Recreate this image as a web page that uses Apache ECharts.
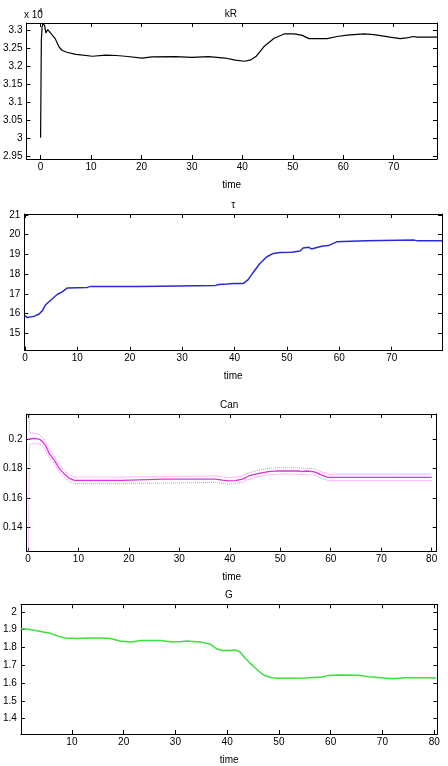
<!DOCTYPE html>
<html>
<head>
<meta charset="utf-8">
<script src="https://cdn.jsdelivr.net/npm/echarts@6.0.0/dist/echarts.min.js"></script>
<style>
  html, body { margin: 0; padding: 0; background: #fff; }
  #chart { width: 448px; height: 766px; }
</style>
</head>
<body>
<div id="chart"></div>
<script>
// kR (in units of 10^4)
const kRTime = [0, 0.15, 0.3, 0.5, 0.8, 1.05, 1.4, 1.8, 2.2, 2.9, 3.7, 4.3, 5.2, 7, 10.3, 12.9, 15, 16.8, 20.1, 22.1, 26.7, 30, 33.3, 36.6, 38.6, 40.4, 41.7, 42.7, 44.3, 46.3, 48.3, 50.3, 51.9, 53.2, 56.8, 58.8, 60.8, 64.1, 66.1, 69.3, 71.3, 72.6, 74, 74.6, 79.3];
const kRValues = [3.0, 3.27, 3.31, 3.318, 3.312, 3.292, 3.301, 3.295, 3.288, 3.276, 3.252, 3.243, 3.238, 3.232, 3.227, 3.23, 3.229, 3.227, 3.222, 3.225, 3.226, 3.224, 3.226, 3.222, 3.216, 3.213, 3.217, 3.226, 3.254, 3.277, 3.289, 3.289, 3.285, 3.276, 3.276, 3.282, 3.286, 3.289, 3.287, 3.28, 3.276, 3.278, 3.282, 3.28, 3.28];

// tau
const tauTime = [0, 0.45, 1.7, 2.7, 3.3, 3.95, 4.9, 6.2, 7.1, 8.1, 11.9, 12.5, 21.8, 22.1, 36.4, 37, 38.6, 39.9, 41.7, 42.6, 43.6, 44.8, 46.1, 47.4, 48.7, 50.9, 51.2, 52.5, 53.1, 54.1, 54.7, 55.7, 56, 56.9, 57.9, 59.5, 60.7, 65.2, 74.1, 74.8, 79.6];
const tauValues = [15.9, 15.8, 15.86, 15.98, 16.15, 16.45, 16.68, 16.98, 17.1, 17.3, 17.33, 17.38, 17.38, 17.41, 17.43, 17.48, 17.5, 17.53, 17.53, 17.72, 18.1, 18.53, 18.87, 19.05, 19.1, 19.11, 19.14, 19.17, 19.33, 19.37, 19.28, 19.35, 19.31, 19.43, 19.45, 19.64, 19.65, 19.69, 19.73, 19.7, 19.7];

// Can + dotted bounds
const canTime = [0, 1.3, 2.3, 2.9, 3.6, 4.25, 5.2, 6.2, 7.2, 8.2, 9.2, 18.6, 18.9, 26.8, 27.1, 27.8, 37.2, 38.5, 39.8, 41.1, 42.5, 43.8, 45.7, 47.7, 49.6, 53.6, 54.2, 55.2, 56.8, 58.1, 59.4, 71.2, 71.5, 72.2, 80];
const canValues = [0.2, 0.2007, 0.2, 0.1984, 0.1949, 0.19, 0.1858, 0.1801, 0.1762, 0.1733, 0.1719, 0.1719, 0.1727, 0.1727, 0.1721, 0.1727, 0.1727, 0.172, 0.1715, 0.1717, 0.1727, 0.1749, 0.1767, 0.1779, 0.1784, 0.1783, 0.1779, 0.1783, 0.1777, 0.1756, 0.174, 0.174, 0.1745, 0.174, 0.174];
const canBoundTime = [0, 0.3, 1.3, 2.3, 2.9, 3.6, 4.25, 5.2, 6.2, 7.2, 8.2, 9.2, 18.6, 18.9, 37.2, 39.8, 42.5, 43.8, 45.7, 47.7, 49.6, 53.6, 56.8, 58.1, 59.4, 71.2, 71.5, 72.2, 80];
const canUpper = [0.3, 0.2045, 0.204, 0.2032, 0.2014, 0.1978, 0.1928, 0.1884, 0.1826, 0.1786, 0.1756, 0.1742, 0.1741, 0.1749, 0.1749, 0.1737, 0.1749, 0.1771, 0.1789, 0.1801, 0.1806, 0.1805, 0.1799, 0.1778, 0.1762, 0.1762, 0.1767, 0.1762, 0.1762];
const canLower = [0.1, 0.1965, 0.1972, 0.1968, 0.1954, 0.192, 0.1872, 0.1832, 0.1776, 0.1738, 0.171, 0.1697, 0.1697, 0.1705, 0.1705, 0.1693, 0.1705, 0.1727, 0.1745, 0.1757, 0.1762, 0.1761, 0.1755, 0.1734, 0.1718, 0.1718, 0.1723, 0.1718, 0.1718];

// G
const gTime = [0.15, 1.3, 3.2, 5.8, 7.4, 8.7, 11, 12.9, 15.5, 17.4, 19.3, 20.6, 21.9, 23.2, 27.1, 29, 30.9, 32.2, 34.8, 36.7, 38, 39, 40.6, 41.5, 42.5, 43.5, 44.4, 45.4, 46.4, 47.3, 48.6, 49.9, 52.5, 55.1, 57.3, 58.3, 59.6, 61.5, 65.4, 67.3, 69.2, 71.2, 72.5, 74.4, 78.3, 80.4];
const gValues = [1.903, 1.903, 1.894, 1.88, 1.862, 1.853, 1.85, 1.853, 1.853, 1.85, 1.836, 1.832, 1.832, 1.839, 1.839, 1.832, 1.832, 1.836, 1.831, 1.818, 1.792, 1.783, 1.783, 1.786, 1.774, 1.739, 1.712, 1.686, 1.659, 1.642, 1.63, 1.627, 1.627, 1.628, 1.633, 1.634, 1.643, 1.645, 1.644, 1.636, 1.631, 1.626, 1.625, 1.63, 1.63, 1.628];

// tick labels
const xTicks70 = [0, 10, 20, 30, 40, 50, 60, 70];
const xTicks80 = [0, 10, 20, 30, 40, 50, 60, 70, 80];
const xTicksG = [10, 20, 30, 40, 50, 60, 70, 80];
const kRTicks = [2.95, 3, 3.05, 3.1, 3.15, 3.2, 3.25, 3.3];
const tauTicks = [15, 16, 17, 18, 19, 20, 21];
const canTicks = [0.14, 0.16, 0.18, 0.2];
const gTicks = [1.4, 1.5, 1.6, 1.7, 1.8, 1.9, 2];

const zip = (xs, ys) => xs.map((x, i) => [x, ys[i]]);

// panel boxes [left, top, width, height]
const boxes = [
  [24.5, 23, 412.5, 136],
  [24.3, 214, 417.7, 136.7],
  [21.7, 414, 415, 137.7],
  [20.7, 604.3, 416.6, 137.7]
];
const xRanges = [[-2.8, 78.6], [-0.13, 79.6], [-0.3, 81], [0.15, 80.6]];
const yRanges = [[2.941, 3.3195], [14.12, 21.05], [0.1231, 0.2173], [1.314, 2.042]];
const xTickSets = [xTicks70, xTicks70, xTicks80, xTicksG];
const yTickSets = [kRTicks, tauTicks, canTicks, gTicks];
const titles = ['kR', 'τ', 'Can', 'G'];

const font = '"Liberation Sans", Arial, Helvetica, sans-serif';
const black = '#000';

const grid = [];
const xAxis = [];
const yAxis = [];
const graphic = [];

boxes.forEach((b, i) => {
  grid.push({ left: b[0], top: b[1], width: b[2], height: b[3], containLabel: false });
  const tickStyle = { inside: true, length: 4, lineStyle: { color: black, width: 1 } };
  const lineStyle = { show: true, onZero: false, lineStyle: { color: black, width: 1 } };
  // bottom + top x axes
  xAxis.push({
    type: 'value', gridIndex: i, position: 'bottom',
    min: xRanges[i][0], max: xRanges[i][1],
    axisLine: lineStyle,
    axisTick: { ...tickStyle, customValues: xTickSets[i] },
    axisLabel: { customValues: xTickSets[i], color: black, fontSize: 10, fontFamily: font, margin: 3 },
    splitLine: { show: false },
    name: 'time', nameLocation: 'middle', nameGap: 21,
    nameTextStyle: { color: black, fontSize: 10, fontFamily: font }
  });
  xAxis.push({
    type: 'value', gridIndex: i, position: 'top',
    min: xRanges[i][0], max: xRanges[i][1],
    axisLine: lineStyle,
    axisTick: { ...tickStyle, customValues: xTickSets[i] },
    axisLabel: { show: false },
    splitLine: { show: false }
  });
  // left + right y axes
  yAxis.push({
    type: 'value', gridIndex: i, position: 'left',
    min: yRanges[i][0], max: yRanges[i][1],
    axisLine: lineStyle,
    axisTick: { ...tickStyle, customValues: yTickSets[i] },
    axisLabel: { customValues: yTickSets[i], color: black, fontSize: 10, fontFamily: font, margin: 4 },
    splitLine: { show: false }
  });
  yAxis.push({
    type: 'value', gridIndex: i, position: 'right',
    min: yRanges[i][0], max: yRanges[i][1],
    axisLine: lineStyle,
    axisTick: { ...tickStyle, customValues: yTickSets[i] },
    axisLabel: { show: false },
    splitLine: { show: false }
  });
  // panel title
  graphic.push({
    type: 'text', x: b[0] + b[2] / 2, y: b[1] - 9,
    style: { text: titles[i], fill: black, font: '10px ' + font, textAlign: 'center', textVerticalAlign: 'middle' }
  });
});

// "x 10^4" exponent on the kR axis
graphic.push({
  type: 'text', x: 24, y: 15,
  style: { text: 'x 10', fill: black, font: '10px ' + font, textAlign: 'left', textVerticalAlign: 'middle' }
});
graphic.push({
  type: 'text', x: 38.5, y: 11,
  style: { text: '4', fill: black, font: '7px ' + font, textAlign: 'left', textVerticalAlign: 'middle' }
});

function lineSeries(idx, data, color, width, type) {
  return {
    type: 'line', xAxisIndex: idx * 2, yAxisIndex: idx * 2,
    data: data, showSymbol: false, symbol: 'none', clip: true,
    lineStyle: { color: color, width: width, type: type || 'solid' },
    animation: false, silent: true
  };
}

const chart = echarts.init(document.getElementById('chart'), null, { renderer: 'canvas' });
chart.setOption({
  backgroundColor: '#fff',
  animation: false,
  textStyle: { fontFamily: font },
  grid: grid,
  xAxis: xAxis,
  yAxis: yAxis,
  graphic: graphic,
  series: [
    lineSeries(0, zip(kRTime, kRValues), '#000', 1.2),
    lineSeries(1, zip(tauTime, tauValues), '#2a2ad8', 1.5),
    lineSeries(2, zip(canBoundTime, canUpper), '#f07cf0', 1, 'dotted'),
    lineSeries(2, zip(canBoundTime, canLower), '#f07cf0', 1, 'dotted'),
    lineSeries(2, zip(canTime, canValues), '#e02ee0', 1.3),
    lineSeries(3, zip(gTime, gValues), '#3be03b', 1.5)
  ]
});
</script>
</body>
</html>
